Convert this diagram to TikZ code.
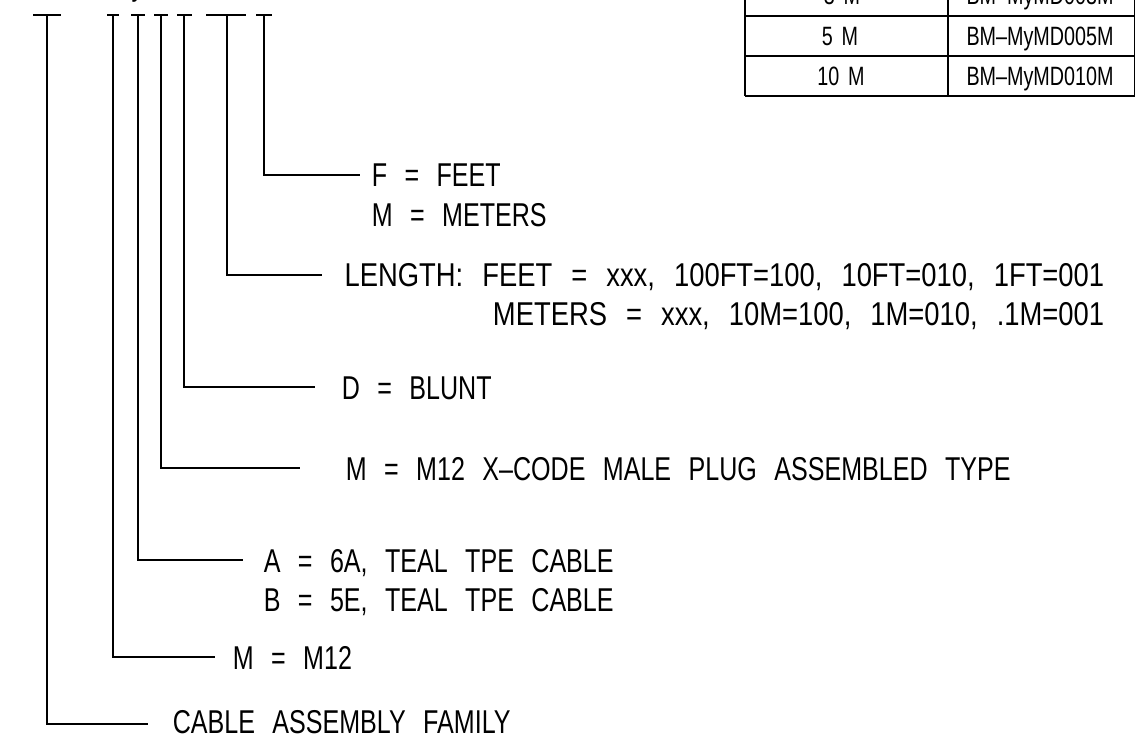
\documentclass[tikz,border=0pt]{standalone}
\usepackage{fontspec}
\setmainfont[FakeStretch=0.76,WordSpace=2.5]{Liberation Sans}
\newfontfamily\lenfont[FakeStretch=0.83,WordSpace=2.5]{Liberation Sans}
\newfontfamily\tabfont[FakeStretch=0.745,WordSpace=1.6,Ligatures=TeX]{Liberation Sans}
\begin{document}
\begin{tikzpicture}[x=1pt,y=-1pt,line width=1.6pt,
  lbl/.style={anchor=base west,inner sep=0pt,font=\fontsize{33}{40}\selectfont},
  lenlbl/.style={anchor=base east,inner sep=0pt,font=\lenfont\fontsize{33}{40}\selectfont},
  cell/.style={anchor=base,inner sep=0pt,font=\tabfont\fontsize{26.5}{30}\selectfont},
  lead/.style={line width=1.6pt}]
\useasboundingbox (0,0) rectangle (1136,738);
\clip (0,0) rectangle (1136,738);
% title fragment (cropped)
\node[lbl,anchor=base] (ty) at (138,-4) {y};
% tick tops
\coordinate (t1) at (47,15);
\coordinate (t2) at (113,15);
\coordinate (t3) at (138,15);
\coordinate (t4) at (161,15);
\coordinate (t5) at (184,15);
\coordinate (t6) at (227,15);
\coordinate (t7) at (264,15);
\draw[lead] (33,15) -- (61,15);
\draw[lead] (107,15) -- (119,15);
\draw[lead] (131,15) -- (145,15);
\draw[lead] (154,15) -- (168,15);
\draw[lead] (177,15) -- (192,15);
\draw[lead] (206,15) -- (246,15);
\draw[lead] (256,15) -- (272,15);
% lead ends
\coordinate (e7) at (360,175);
\coordinate (e6) at (322,275);
\coordinate (e5) at (315,387);
\coordinate (e4) at (300,468);
\coordinate (e3) at (243,560);
\coordinate (e2) at (215,657);
\coordinate (e1) at (148,724);
\draw[lead] (t7) |- (e7);
\draw[lead] (t6) |- (e6);
\draw[lead] (t5) |- (e5);
\draw[lead] (t4) |- (e4);
\draw[lead] (t3) |- (e3);
\draw[lead] (t2) |- (e2);
\draw[lead] (t1) |- (e1);
% labels
\node[lbl] (l7a) at (371,187) {F = FEET};
\node[lbl] (l7b) at (371,227) {M = METERS};
\node[lenlbl] (l6a) at (1105,287) {LENGTH: FEET = xxx, 100FT=100, 10FT=010, 1FT=001};
\node[lenlbl] (l6b) at (1105,326) {METERS = xxx, 10M=100, 1M=010, .1M=001};
\node[lbl] (l5) at (341,399) {D = BLUNT};
\node[lbl] (l4) at (345,480) {M = M12 X--CODE MALE PLUG ASSEMBLED TYPE};
\node[lbl] (l3a) at (263,572) {A = 6A, TEAL TPE CABLE};
\node[lbl] (l3b) at (263,611) {B = 5E, TEAL TPE CABLE};
\node[lbl] (l2) at (232,669) {M = M12};
\node[lbl] (l1) at (172,733) {CABLE ASSEMBLY FAMILY};
% table
\draw (745,0) -- (745,96);
\draw (948,0) -- (948,96);
\draw (1134.5,0) -- (1134.5,96);
\draw (745,16) -- (1134.5,16);
\draw (745,56) -- (1134.5,56);
\draw (745,96) -- (1134.5,96);
\node[cell] (c0a) at (842,5) {3 M};
\node[cell] (c0b) at (1040,5) {BM--MyMD003M};
\node[cell] (c1a) at (840,46) {5 M};
\node[cell] (c1b) at (1040,46) {BM--MyMD005M};
\node[cell] (c2a) at (841,86) {10 M};
\node[cell] (c2b) at (1040,86) {BM--MyMD010M};
\end{tikzpicture}
\end{document}
